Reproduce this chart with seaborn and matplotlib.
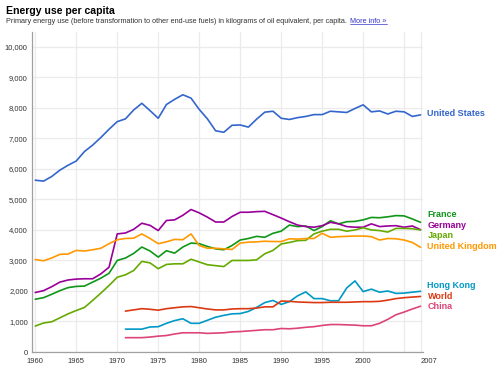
import matplotlib
matplotlib.use("Agg")
import matplotlib.pyplot as plt
import seaborn as sns
import pandas as pd
from matplotlib.lines import Line2D

# Energy use per capita, kg of oil equivalent
years_long = list(range(1960, 2008))
years_short = list(range(1971, 2008))

united_states = [5630, 5600, 5750, 5960, 6120, 6260, 6570, 6780, 7030, 7300,
                 7550, 7640, 7930, 8150, 7910, 7660, 8110, 8280, 8430, 8320,
                 7950, 7640, 7250, 7200, 7430, 7440, 7370, 7630, 7860, 7890,
                 7660, 7620, 7680, 7720, 7780, 7780, 7890, 7870, 7850, 7980,
                 8100, 7870, 7900, 7800, 7890, 7870, 7720, 7770]
france = [1730, 1780, 1890, 2010, 2110, 2150, 2160, 2290, 2420, 2580,
          3000, 3080, 3230, 3440, 3310, 3110, 3320, 3240, 3440, 3570,
          3550, 3460, 3380, 3350, 3490, 3670, 3720, 3790, 3760, 3890,
          3960, 4160, 4110, 4130, 3980, 4110, 4300, 4200, 4270, 4280,
          4330, 4410, 4400, 4430, 4470, 4460, 4360, 4250]
germany = [1950, 2010, 2140, 2290, 2360, 2390, 2400, 2400, 2560, 2780,
           3870, 3900, 4020, 4220, 4150, 3980, 4310, 4330, 4480, 4670,
           4560, 4420, 4260, 4260, 4440, 4580, 4580, 4600, 4610, 4500,
           4390, 4270, 4160, 4110, 4090, 4140, 4250, 4200, 4110, 4090,
           4090, 4200, 4110, 4130, 4140, 4090, 4130, 4010]
japan = [850, 950, 990, 1120, 1250, 1360, 1460, 1690, 1930, 2180,
         2450, 2530, 2670, 2970, 2920, 2730, 2870, 2890, 2890, 3040,
         2950, 2860, 2830, 2800, 3000, 3000, 3000, 3020, 3220, 3330,
         3540, 3590, 3650, 3660, 3870, 3960, 4020, 4020, 3960, 4000,
         4070, 4000, 3980, 3930, 4050, 4050, 4040, 4000]
united_kingdom = [3030, 2990, 3080, 3200, 3210, 3330, 3310, 3350, 3400, 3550,
                  3680, 3720, 3730, 3870, 3720, 3550, 3610, 3690, 3680, 3870,
                  3490, 3400, 3400, 3380, 3360, 3570, 3600, 3610, 3630, 3620,
                  3620, 3710, 3700, 3720, 3720, 3890, 3760, 3780, 3790, 3800,
                  3800, 3780, 3670, 3720, 3710, 3670, 3590, 3430]
hong_kong = [750, 750, 750, 820, 830, 940, 1030, 1090, 940, 940,
             1040, 1140, 1200, 1250, 1260, 1330, 1460, 1620, 1690, 1560,
             1650, 1840, 1970, 1750, 1750, 1680, 1680, 2100, 2330, 1980,
             2060, 1960, 2000, 1920, 1930, 1960, 1990]
world = [1340, 1380, 1420, 1400, 1370, 1420, 1450, 1480, 1490, 1450,
         1410, 1380, 1380, 1410, 1420, 1420, 1440, 1480, 1480, 1670,
         1660, 1640, 1630, 1620, 1620, 1630, 1630, 1630, 1640, 1650,
         1650, 1660, 1700, 1750, 1780, 1800, 1820]
china = [470, 470, 470, 490, 520, 540, 590, 630, 630, 630,
         610, 620, 630, 660, 670, 690, 710, 730, 730, 770,
         760, 780, 810, 830, 870, 900, 900, 890, 880, 860,
         860, 940, 1070, 1220, 1310, 1410, 1500]

series = {
    "United States": (years_long, united_states),
    "France": (years_long, france),
    "Germany": (years_long, germany),
    "Japan": (years_long, japan),
    "United Kingdom": (years_long, united_kingdom),
    "Hong Kong": (years_short, hong_kong),
    "World": (years_short, world),
    "China": (years_short, china),
}

colors = {
    "United States": "#3366cc",
    "France": "#109618",
    "Germany": "#990099",
    "Japan": "#66aa00",
    "United Kingdom": "#ff9900",
    "Hong Kong": "#0099c6",
    "World": "#dc3912",
    "China": "#dd4477",
}

rows = []
for name, (yrs, vals) in series.items():
    for y, v in zip(yrs, vals):
        rows.append({"Country": name, "Year": y, "Energy": v})
df = pd.DataFrame(rows)

sns.set_style("white")
plt.rcParams["font.family"] = ["Liberation Sans", "DejaVu Sans"]

fig = plt.figure(figsize=(5, 3.65), dpi=100)
ax = fig.add_axes([0.064, 0.0356, 0.782, 0.877])

sns.lineplot(data=df, x="Year", y="Energy", hue="Country", palette=colors,
             linewidth=1.2, legend=False, ax=ax, zorder=3)

ax.set_xlim(1959.6, 2007.3)
ax.set_ylim(0, 10490)

xticks = [1960, 1965, 1970, 1975, 1980, 1985, 1990, 1995, 2000, 2005, 2007]
xlabels = [str(t) for t in xticks]
xlabels[-2] = ""
ax.set_xticks(xticks)
ax.set_xticklabels(xlabels)
ax.get_xticklabels()[-1].set_ha("left")

yticks = list(range(0, 10001, 1000))
ax.set_yticks(yticks)
ax.set_yticklabels([f"{t:,}" for t in yticks])

ax.tick_params(axis="x", length=3, width=0.8, color="#999999", pad=1,
               labelsize=5.5, labelcolor="#333333")
ax.tick_params(axis="y", length=0, pad=3, labelsize=5.5, labelcolor="#333333")

ax.grid(True, color="#ebebeb", linewidth=0.9, zorder=0)
ax.set_axisbelow(True)
sns.despine(ax=ax, top=True, right=True)
for side in ["left", "bottom"]:
    ax.spines[side].set_color("#a0a0a0")
    ax.spines[side].set_linewidth(0.9)
ax.set_xlabel("")
ax.set_ylabel("")

# end labels, spread apart so they don't overlap
names = list(series.keys())
last = {n: series[n][1][-1] for n in names}
order = sorted(names, key=lambda n: -last[n])
pos = {n: float(last[n]) for n in names}
gap = 350
for _ in range(200):
    for a, b in zip(order[:-1], order[1:]):
        d = pos[a] - pos[b]
        if d < gap:
            push = (gap - d) / 2
            pos[a] += push
            pos[b] -= push
for n in names:
    ax.annotate(n, xy=(2007, pos[n] + 60), xytext=(5, 0),
                textcoords="offset points", va="center", ha="left",
                fontsize=6.5, fontweight="bold", color=colors[n],
                annotation_clip=False)

# header
fig.text(0.013, 0.9616, "Energy use per capita", fontsize=7.6,
         fontweight="bold", color="#000000", va="baseline")
sub = fig.text(0.013, 0.937,
               "Primary energy use (before transformation to other end-use "
               "fuels) in kilograms of oil equivalent, per capita.",
               fontsize=5.2, color="#333333", va="baseline")
renderer = fig.canvas.get_renderer()
bb = sub.get_window_extent(renderer)
x_link = (bb.x1 + 3) / fig.bbox.width
link = fig.text(x_link, 0.937, "More info \u00bb", fontsize=5.2,
                color="#3333cc", va="baseline")
lb = link.get_window_extent(renderer)
y_line = (lb.y0 + 0.5) / fig.bbox.height
fig.add_artist(Line2D([lb.x0 / fig.bbox.width, lb.x1 / fig.bbox.width],
                      [y_line, y_line], color="#3333cc", linewidth=0.5))

fig.savefig("out.png", dpi=100)
